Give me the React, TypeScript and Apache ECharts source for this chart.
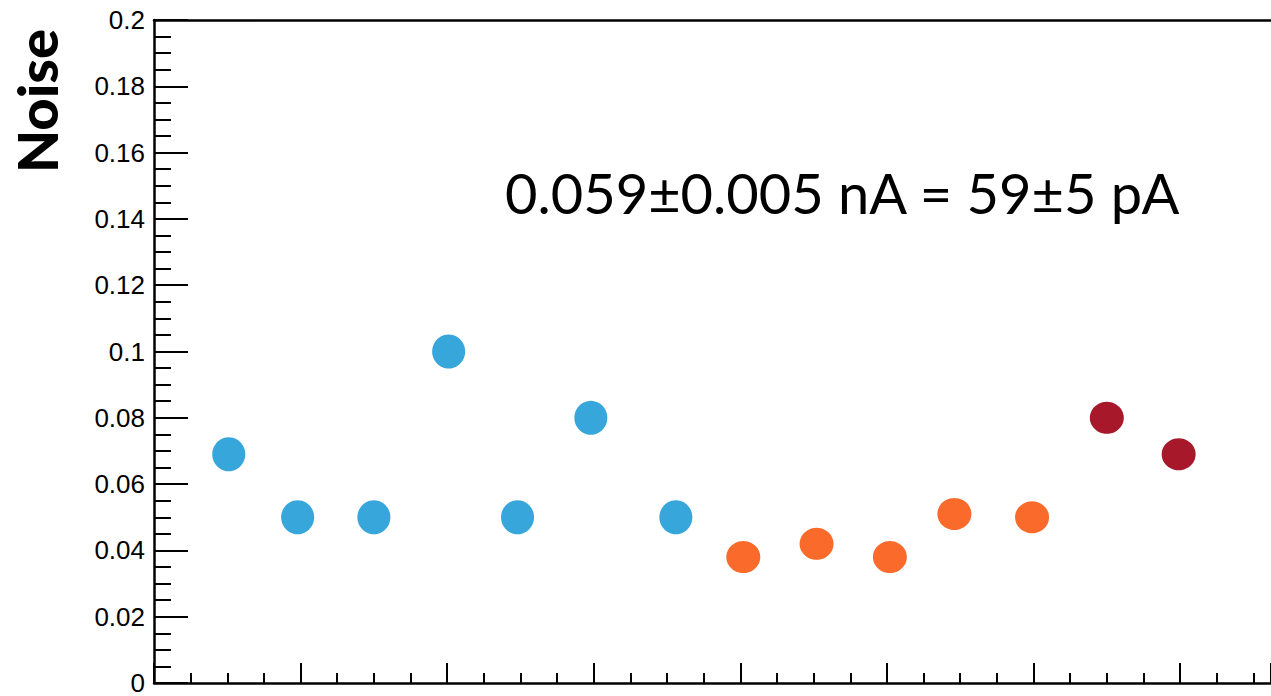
import React, { useEffect, useRef } from "react";
import * as echarts from "echarts";

// Data
const xPositions = [0.51, 0.98, 1.5, 2.01, 2.48, 2.98, 3.56, 4.02, 4.52, 5.02, 5.46, 5.99, 6.5, 6.99];
const noiseValues = [0.069, 0.05, 0.05, 0.1, 0.05, 0.08, 0.05, 0.038, 0.042, 0.038, 0.051, 0.05, 0.08, 0.069];
const groups = ["blue", "blue", "blue", "blue", "blue", "blue", "blue", "orange", "orange", "orange", "orange", "orange", "red", "red"];
const groupColors: Record<string, string> = { blue: "#36a6db", orange: "#fa6b2b", red: "#a8182b" };
const groupSizes: Record<string, number[]> = { blue: [33, 34], orange: [34, 32], red: [34, 32] };
const yTickLabels = ["0", "0.02", "0.04", "0.06", "0.08", "0.1", "0.12", "0.14", "0.16", "0.18", "0.2"];
const yAxisTitle = "Noise";
const annotation = "0.059±0.005 nA = 59±5 pA";

export default function App() {
  const ref = useRef<HTMLDivElement>(null);
  useEffect(() => {
    if (!ref.current) return;
    const chart = echarts.init(ref.current, undefined, { renderer: "svg" });
    const groupNames = ["blue", "orange", "red"];
    const series = groupNames.map((g) => ({
      type: "scatter",
      name: g,
      symbol: "circle",
      symbolSize: groupSizes[g],
      itemStyle: { color: groupColors[g], opacity: 1 },
      data: xPositions
        .map((x, i) => ({ x, y: noiseValues[i], g: groups[i] }))
        .filter((d) => d.g === g)
        .map((d) => [d.x, d.y]),
    }));
    chart.setOption({
      animation: false,
      backgroundColor: "#ffffff",
      grid: { left: 154, right: 0, top: 20, bottom: 11 },
      xAxis: [
        {
          type: "value",
          min: 0,
          max: 7.62,
          interval: 1,
          axisLine: { show: true, onZero: false, lineStyle: { color: "#000", width: 2.5 } },
          axisTick: { show: true, inside: true, length: 20, lineStyle: { color: "#000", width: 2 } },
          minorTick: { show: true, splitNumber: 4, length: 10, lineStyle: { color: "#000", width: 2 } },
          axisLabel: { show: false },
          splitLine: { show: false },
        },
        {
          type: "value",
          position: "top",
          min: 0,
          max: 7.62,
          axisLine: { show: true, onZero: false, lineStyle: { color: "#000", width: 2.5 } },
          axisTick: { show: false },
          axisLabel: { show: false },
          splitLine: { show: false },
        },
      ],
      yAxis: {
        type: "value",
        min: 0,
        max: 0.2,
        interval: 0.02,
        axisLine: { show: true, onZero: false, lineStyle: { color: "#000", width: 2.5 } },
        axisTick: { show: true, inside: true, length: 34, lineStyle: { color: "#000", width: 2 } },
        minorTick: { show: true, splitNumber: 4, length: 17, lineStyle: { color: "#000", width: 2 } },
        axisLabel: {
          show: true,
          margin: 9,
          color: "#000",
          fontFamily: "Liberation Sans",
          fontSize: 26,
          formatter: (v: number) => yTickLabels[Math.round(v / 0.02)] ?? "",
        },
        splitLine: { show: false },
      },
      graphic: [
        {
          type: "text",
          x: 36,
          y: 101,
          rotation: Math.PI / 2,
          style: {
            text: yAxisTitle,
            fill: "#000",
            font: "900 56px Lato",
            textAlign: "center",
            textVerticalAlign: "middle",
          },
        },
        {
          type: "text",
          x: 505,
          y: 192,
          style: {
            text: annotation,
            fill: "#000",
            font: "400 56px Lato",
            textAlign: "left",
            textVerticalAlign: "middle",
          },
        },
      ],
      series,
    });
    return () => chart.dispose();
  }, []);
  return (
    <div
      ref={ref}
      style={{ position: "absolute", left: 0, top: 0, width: 1271, height: 696 }}
    />
  );
}
